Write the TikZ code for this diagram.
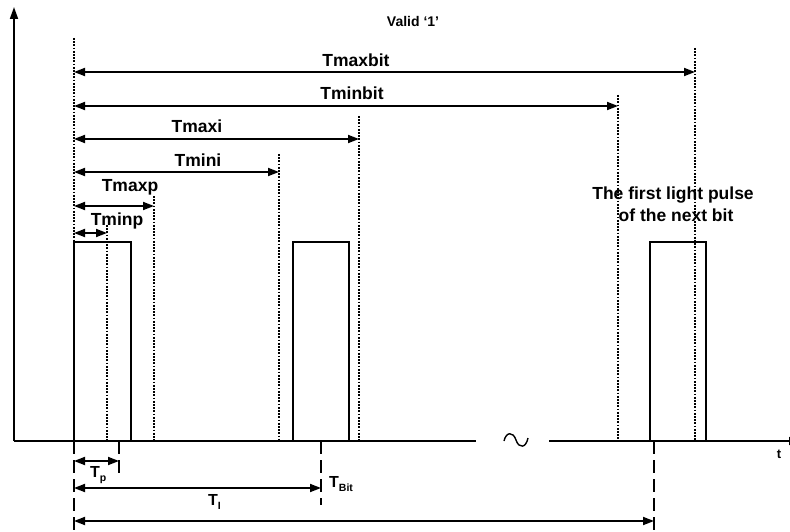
\documentclass[tikz,border=0pt]{standalone}
\usepackage{fontspec}
\setmainfont{Liberation Sans}
\usetikzlibrary{arrows.meta}
\newcommand{\lowidx}[1]{\raisebox{-4pt}{\fontsize{10.5}{12}\selectfont #1}}
\begin{document}
\begin{tikzpicture}[x=1pt,y=-1pt,
  axis/.style={line width=1.8pt,-{Triangle[length=12pt,width=8pt]}},
  pulse/.style={line width=1.4pt},
  marker/.style={line width=1.3pt,dash pattern=on 1.8pt off 1.4pt},
  guide/.style={line width=1.4pt,dash pattern=on 13pt off 6pt},
  span/.style={line width=1.8pt,{Triangle[length=11pt,width=8pt]}-{Triangle[length=11pt,width=8pt]}},
  lbl/.style={font=\bfseries\fontsize{17.5}{19}\selectfont,inner sep=0pt,anchor=base},
  tlbl/.style={font=\bfseries\fontsize{16}{18}\selectfont,inner sep=0pt,anchor=base west}]
\useasboundingbox (0,0) rectangle (790,532);
% axes
\coordinate (origin) at (14,441);
\coordinate (ytip) at (14,7);
\coordinate (gapl) at (476,441);
\coordinate (gapr) at (549,441);
\coordinate (xtip) at (801,441);
\draw[axis] (origin) -- (ytip);
\draw[line width=1.6pt] (origin) -- (gapl);
\draw[axis,line width=1.6pt] (gapr) -- (xtip);
\draw[line width=1.4pt] (504,441) .. controls (506,432) and (513,431) .. (516,440)
  .. controls (519,449) and (526,448) .. (528,438);
\node[font=\bfseries\fontsize{13}{15}\selectfont,inner sep=0pt,anchor=base] (tlab) at (779,458) {t};
\node[font=\bfseries\fontsize{14}{16}\selectfont,inner sep=0pt,anchor=base] (valid) at (413,27) {Valid ‘1’};
% light pulses
\draw[pulse] (74,441) |- (131,242) -- (131,441);
\draw[pulse] (293,441) |- (349,242) -- (349,441);
\draw[pulse] (650,441) |- (706,242) -- (706,441);
% start of the bit
\coordinate (start) at (74,38);
\draw[marker] (start) -- (start |- origin);
% limits with their ranges
\foreach \name/\px/\ptop/\py/\lx/\ly in {Tmaxbit/695/48/72/356/67, Tminbit/618/95/106/352/100,
    Tmaxi/359/116/139/197/133, Tmini/279/154/172/198/167,
    Tmaxp/154/196/206/130/192, Tminp/107/225/233/117/225}{
  \coordinate (\name top) at (\px,\ptop);
  \coordinate (\name end) at (\px,\py);
  \draw[marker] (\name top) -- (\name top |- origin);
  \draw[span] (start |- \name end) -- (\name end);
  \node[lbl] (\name) at (\lx,\ly) {\name};
}
\node[lbl] (next1) at (673,200) {The first light pulse};
\node[lbl] (next2) at (676,222) {of the next bit};
% measured periods
\coordinate (g0) at (74,532);
\coordinate (gp) at (119,479);
\coordinate (gl) at (321,505);
\coordinate (gb) at (654,532);
\foreach \g in {g0,gp,gl,gb}
  \draw[guide] (\g |- origin) -- (\g);
\draw[span] (g0 |- 0,461) -- (gp |- 0,461);
\draw[span] (g0 |- 0,488) -- (gl |- 0,488);
\draw[span] (g0 |- 0,521) -- (gb |- 0,521);
\node[tlbl] (Tp) at (90,477) {T\lowidx{p}};
\node[tlbl] (Tl) at (208,505) {T\lowidx{I}};
\node[tlbl] (TBit) at (329,487) {T\lowidx{Bit}};
\end{tikzpicture}
\end{document}
